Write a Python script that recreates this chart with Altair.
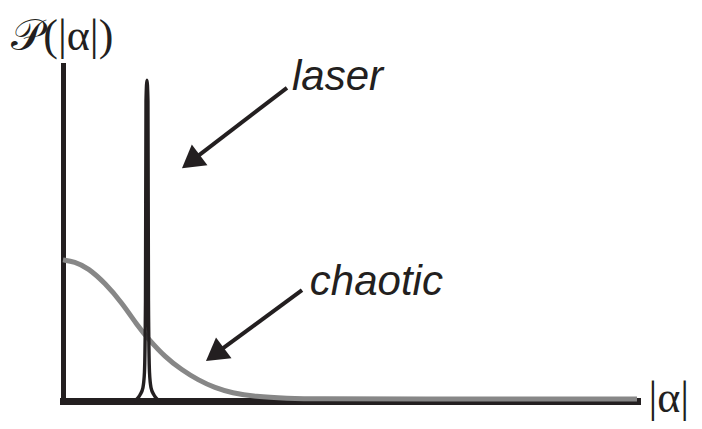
import altair as alt
import pandas as pd

# ---- data (x: |alpha| in arbitrary units 0..10, y: P in units 0..1) ----
chaotic_x = [0.0, 0.20, 0.436, 0.732, 1.028, 1.307, 1.481, 1.777, 2.073, 2.352, 2.648, 2.944, 3.345, 3.920, 4.390, 5.871, 10.0]
chaotic_p = [0.420, 0.415, 0.396, 0.351, 0.292, 0.222, 0.186, 0.131, 0.092, 0.0625, 0.039, 0.024, 0.013, 0.008, 0.006, 0.006, 0.006]

laser_x = [1.237, 1.289, 1.341, 1.393, 1.419, 1.437, 1.446, 1.463, 1.480, 1.489, 1.507, 1.533, 1.585, 1.637, 1.689]
laser_p = [0.0, 0.006, 0.018, 0.040, 0.085, 0.298, 0.893, 0.955, 0.893, 0.298, 0.085, 0.040, 0.018, 0.006, 0.0]

label_text = ["laser", "chaotic"]
label_x = [3.99, 4.30]
label_y = [0.926, 0.315]

arrow_x = [3.902, 4.164]
arrow_y = [0.932, 0.330]
arrow_x2 = [2.28, 2.701]
arrow_y2 = [0.720, 0.146]
head_x = [2.073, 2.491]
head_y = [0.693, 0.119]
head_angle = [233, 233.5]

axis_text = ["𝒫(|α|)", "|α|"]
axis_text_x = [-0.90, 10.2]
axis_text_y = [1.045, -0.033]

BLACK = "#231f20"
GRAY = "#878787"

xs = alt.Scale(domain=[0, 10], nice=False, zero=False)
ys = alt.Scale(domain=[0, 1], nice=False, zero=False)

chaotic_df = pd.DataFrame({"x": chaotic_x, "p": chaotic_p})
laser_df = pd.DataFrame({"x": laser_x, "p": laser_p})
label_df = pd.DataFrame({"t": label_text, "x": label_x, "y": label_y})
arrow_df = pd.DataFrame({"x": arrow_x, "y": arrow_y, "x2": arrow_x2, "y2": arrow_y2})
head_df = pd.DataFrame({"x": head_x, "y": head_y, "a": head_angle})
axis_df = pd.DataFrame({"t": axis_text, "x": axis_text_x, "y": axis_text_y})

chaotic = alt.Chart(chaotic_df).mark_line(
    color=GRAY, strokeWidth=5, interpolate="basis", strokeCap="butt"
).encode(
    x=alt.X("x:Q", scale=xs, axis=alt.Axis(title=None, labels=False, ticks=False, grid=False,
                                           domainColor=BLACK, domainWidth=7, domainCap="square")),
    y=alt.Y("p:Q", scale=ys, axis=alt.Axis(title=None, labels=False, ticks=False, grid=False,
                                           domainColor=BLACK, domainWidth=5, domainCap="square")),
)

laser = alt.Chart(laser_df).mark_line(
    color=BLACK, strokeWidth=3.4, interpolate="monotone"
).encode(x=alt.X("x:Q", scale=xs), y=alt.Y("p:Q", scale=ys))

arrows = alt.Chart(arrow_df).mark_rule(color=BLACK, strokeWidth=4).encode(
    x=alt.X("x:Q", scale=xs), y=alt.Y("y:Q", scale=ys), x2="x2:Q", y2="y2:Q"
)

heads = alt.Chart(head_df).mark_point(
    shape="M0,0L-0.5,0.85L0.5,0.85Z", filled=True, color=BLACK, opacity=1, size=2704, strokeWidth=0
).encode(x=alt.X("x:Q", scale=xs), y=alt.Y("y:Q", scale=ys), angle=alt.Angle("a:Q", scale=None))

labels = alt.Chart(label_df).mark_text(
    font="Liberation Sans", fontStyle="italic", fontSize=42, align="left", baseline="alphabetic", color=BLACK
).encode(x=alt.X("x:Q", scale=xs), y=alt.Y("y:Q", scale=ys), text="t:N")

axis_labels = alt.Chart(axis_df).mark_text(
    font="Liberation Serif", fontSize=44, align="left", baseline="alphabetic", color=BLACK
).encode(x=alt.X("x:Q", scale=xs), y=alt.Y("y:Q", scale=ys), text="t:N")

chart = alt.layer(chaotic, laser, arrows, heads, labels, axis_labels).properties(
    width=574, height=336,
    autosize=alt.AutoSizeParams(type="none"),
    padding={"left": 55, "top": 57, "right": 57, "bottom": 20},
    background="white",
).configure_view(stroke=None)

chart.save("out.html", embed_options={"renderer": "svg", "actions": False})
